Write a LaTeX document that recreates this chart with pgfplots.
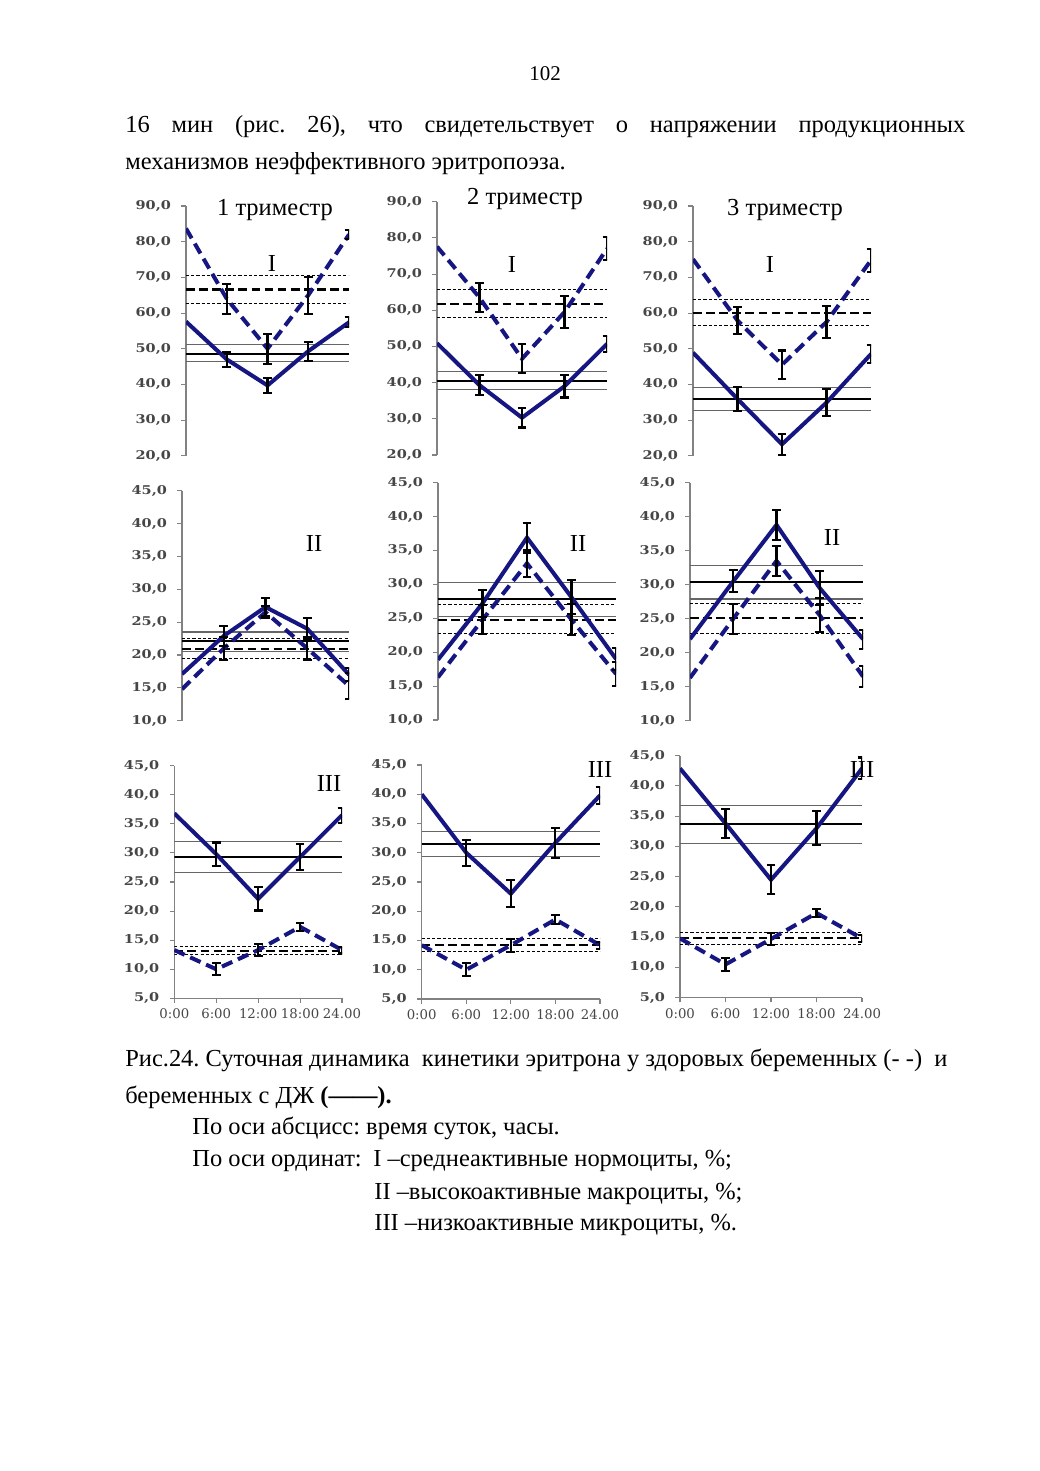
\documentclass[border=0pt]{standalone}
\usepackage{fontspec}
\setmainfont{Liberation Serif}
\newfontfamily\ticfont[FakeStretch=1.2]{DejaVu Serif}
\newfontfamily\xticfont{DejaVu Serif}
\usepackage{pgfplots}
\pgfplotsset{compat=1.18}
\definecolor{navy}{RGB}{22,22,130}
\definecolor{axgray}{RGB}{130,130,130}
\definecolor{tickgray}{RGB}{70,70,70}
\def\u{0.5723pt}
\pgfplotsset{
  panel/.style={scale only axis, xmin=0, xmax=24, anchor=south west,
    axis y line*=left,
    axis line style={axgray, line width=0.6pt},
    tick style={axgray, line width=0.6pt},
    tick align=outside, major tick length=2.6pt,
    yticklabel style={font=\ticfont\bfseries\fontsize{6.9}{8}\selectfont, text=tickgray, xshift=-2.5pt},
    xticklabel style={font=\xticfont\fontsize{7.6}{9}\selectfont, text=tickgray},
    /pgf/number format/fixed, /pgf/number format/fixed zerofill,
    /pgf/number format/precision=1, /pgf/number format/use comma,
    /pgf/number format/assume math mode=true},
  toprow/.style={panel, axis x line=none},
  botrow/.style={panel, axis x line*=bottom, xtick={0,6,12,18,24},
    xticklabels={0:00,6:00,12:00,18:00,24.00}},
  sline/.style={navy, line width=2.3pt, mark=none},
  dline/.style={navy, line width=2.3pt, mark=none, dash pattern=on 6.5pt off 3.5pt},
  smean/.style={black, line width=1.2pt, mark=none},
  dmean/.style={black, line width=1.2pt, mark=none, dash pattern=on 5pt off 2.5pt},
  sband/.style={black!60, line width=0.6pt, mark=none},
  dband/.style={black, line width=0.5pt, mark=none, dash pattern=on 1.8pt off 1.2pt},
  ebar/.style={draw=none, mark=none, error bars/.cd, y dir=both, y explicit,
    error mark=-,
    error bar style={draw=black, solid, line width=1.2pt},
    error mark options={rotate=90, draw=black, solid, line width=1.2pt, mark size=2.5pt}},
}
\begin{document}
\frenchspacing
\begin{tikzpicture}
\useasboundingbox (0,0) rectangle (1040*\u,-1471*\u);
\fill[white] (0,0) rectangle (1040*\u,-1471*\u);
% page text
\node[font=\fontsize{12}{14}\selectfont] at (545*\u,-74*\u) {102};
\node[anchor=base west, inner sep=0pt, font=\fontsize{14}{16}\selectfont] at (125*\u,-133*\u)
  {\makebox[480.7pt][s]{16 мин (рис. 26), что свидетельствует о напряжении продукционных}};
\node[anchor=base west, inner sep=0pt, font=\fontsize{14}{16}\selectfont] at (125*\u,-170*\u)
  {механизмов неэффективного эритропоэза.};
\begin{scope}[every node/.style={anchor=base west, inner sep=0pt, font=\fontsize{14}{16}\selectfont}]
\node at (125*\u,-1066*\u) {Рис.24. Суточная динамика\ \ кинетики эритрона у здоровых беременных (- -)\ \ и};
\node at (125*\u,-1103*\u) {беременных с ДЖ \textbf{(——).}};
\node at (192*\u,-1134*\u) {По оси абсцисс: время суток, часы.};
\node at (192*\u,-1166*\u) {По оси ординат:};
\node at (373*\u,-1166*\u) {I –среднеактивные нормоциты, \%;};
\node at (374*\u,-1199*\u) {II –высокоактивные макроциты, \%;};
\node at (374*\u,-1230*\u) {III –низкоактивные микроциты, \%.};
\end{scope}

% ---------- Row 1 ----------
\begin{axis}[toprow, at={(186*\u,-455.7*\u)}, width=163*\u, height=249.7*\u,
  ymin=20, ymax=90, ytick={20,30,...,90}]
\addplot[dband] coordinates {(0,70.5) (24,70.5)};
\addplot[dband] coordinates {(0,62.6) (24,62.6)};
\addplot[dmean] coordinates {(0,66.6) (24,66.6)};
\addplot[sband] coordinates {(0,51.2) (24,51.2)};
\addplot[sband] coordinates {(0,46.3) (24,46.3)};
\addplot[smean] coordinates {(0,48.5) (24,48.5)};
\addplot[dline] coordinates {(0,83.7) (6,64) (12,50) (18,65) (24,82)};
\addplot[sline] coordinates {(0,57.6) (6,47) (12,39.7) (18,49.3) (24,57.4)};
\addplot[ebar] coordinates {(6,64) +- (0,4.2) (12,50) +- (0,4.2) (18,65) +- (0,5.2) (24,82) +- (0,1.2)};
\addplot[ebar] coordinates {(6,47) +- (0,2.2) (12,39.7) +- (0,2.2) (18,49.3) +- (0,2.7) (24,57.4) +- (0,1.4)};
\end{axis}

\begin{axis}[toprow, at={(437*\u,-455*\u)}, width=170*\u, height=253.3*\u,
  ymin=20, ymax=90, ytick={20,30,...,90}]
\addplot[dband] coordinates {(0,65.7) (24,65.7)};
\addplot[dband] coordinates {(0,58.1) (24,58.1)};
\addplot[dmean] coordinates {(0,61.8) (24,61.8)};
\addplot[sband] coordinates {(0,43.2) (24,43.2)};
\addplot[sband] coordinates {(0,38) (24,38)};
\addplot[smean] coordinates {(0,40.4) (24,40.4)};
\addplot[dline] coordinates {(0,77.6) (6,63.5) (12,46.6) (18,59.5) (24,77)};
\addplot[sline] coordinates {(0,50.9) (6,39.3) (12,30.3) (18,39) (24,50.7)};
\addplot[ebar] coordinates {(6,63.5) +- (0,4) (12,46.6) +- (0,4) (18,59.5) +- (0,4.5) (24,77) +- (0,3.2)};
\addplot[ebar] coordinates {(6,39.3) +- (0,2.7) (12,30.3) +- (0,2.7) (18,39) +- (0,3.1) (24,50.7) +- (0,2.3)};
\end{axis}

\begin{axis}[toprow, at={(693*\u,-455.7*\u)}, width=178*\u, height=249.7*\u,
  ymin=20, ymax=90, ytick={20,30,...,90}]
\addplot[dband] coordinates {(0,63.8) (24,63.8)};
\addplot[dband] coordinates {(0,56.4) (24,56.4)};
\addplot[dmean] coordinates {(0,60) (24,60)};
\addplot[sband] coordinates {(0,39) (24,39)};
\addplot[sband] coordinates {(0,32.7) (24,32.7)};
\addplot[smean] coordinates {(0,35.8) (24,35.8)};
\addplot[dline] coordinates {(0,75.1) (6,57.9) (12,45.5) (18,57.5) (24,74.8)};
\addplot[sline] coordinates {(0,48.9) (6,35.9) (12,23.2) (18,34.9) (24,48.5)};
\addplot[ebar] coordinates {(6,57.9) +- (0,3.8) (12,45.5) +- (0,4) (18,57.5) +- (0,4.5) (24,74.8) +- (0,3.2)};
\addplot[ebar] coordinates {(6,35.9) +- (0,3.3) (12,23.2) +- (0,3) (18,34.9) +- (0,3.8) (24,48.5) +- (0,2.5)};
\end{axis}

% ---------- Row 2 ----------
\begin{axis}[toprow, at={(182*\u,-720.7*\u)}, width=167*\u, height=230*\u,
  ymin=10, ymax=45, ytick={10,15,...,45}]
\addplot[dband] coordinates {(0,22.5) (24,22.5)};
\addplot[dband] coordinates {(0,19.5) (24,19.5)};
\addplot[dmean] coordinates {(0,20.9) (24,20.9)};
\addplot[sband] coordinates {(0,23.5) (24,23.5)};
\addplot[sband] coordinates {(0,20.6) (24,20.6)};
\addplot[smean] coordinates {(0,22.1) (24,22.1)};
\addplot[dline] coordinates {(0,14.8) (6,21) (12,26.5) (18,21) (24,15.3)};
\addplot[sline] coordinates {(0,17.1) (6,22.9) (12,27.3) (18,24) (24,17)};
\addplot[ebar] coordinates {(6,21) +- (0,1.7) (12,26.5) +- (0,0.9) (18,21) +- (0,1.7) (24,15.3) +- (0,2)};
\addplot[ebar] coordinates {(6,22.9) +- (0,1.5) (12,27.3) +- (0,1.4) (18,24) +- (0,1.6) (24,17) +- (0,1)};
\end{axis}

\begin{axis}[toprow, at={(438*\u,-720*\u)}, width=178*\u, height=237.3*\u,
  ymin=10, ymax=45, ytick={10,15,...,45}]
\addplot[dband] coordinates {(0,27) (24,27)};
\addplot[dband] coordinates {(0,22.7) (24,22.7)};
\addplot[dmean] coordinates {(0,24.8) (24,24.8)};
\addplot[sband] coordinates {(0,30.3) (24,30.3)};
\addplot[sband] coordinates {(0,25.3) (24,25.3)};
\addplot[smean] coordinates {(0,27.8) (24,27.8)};
\addplot[dline] coordinates {(0,16.3) (6,24.8) (12,33.1) (18,24.8) (24,16.8)};
\addplot[sline] coordinates {(0,18.9) (6,27.2) (12,36.9) (18,28.1) (24,19)};
\addplot[ebar] coordinates {(6,24.8) +- (0,2.1) (12,33.1) +- (0,2) (18,24.8) +- (0,2.3) (24,16.8) +- (0,1.8)};
\addplot[ebar] coordinates {(6,27.2) +- (0,2) (12,36.9) +- (0,2.2) (18,28.1) +- (0,2.5) (24,19) +- (0,1.6)};
\end{axis}

\begin{axis}[toprow, at={(690*\u,-720.7*\u)}, width=173*\u, height=238*\u,
  ymin=10, ymax=45, ytick={10,15,...,45}]
\addplot[dband] coordinates {(0,27.2) (24,27.2)};
\addplot[dband] coordinates {(0,22.9) (24,22.9)};
\addplot[dmean] coordinates {(0,25.1) (24,25.1)};
\addplot[sband] coordinates {(0,32.8) (24,32.8)};
\addplot[sband] coordinates {(0,27.9) (24,27.9)};
\addplot[smean] coordinates {(0,30.4) (24,30.4)};
\addplot[dline] coordinates {(0,16.3) (6,25) (12,33.5) (18,25.5) (24,16.5)};
\addplot[sline] coordinates {(0,22) (6,30.5) (12,38.8) (18,29.5) (24,22)};
\addplot[ebar] coordinates {(6,25) +- (0,2.2) (12,33.5) +- (0,2.2) (18,25.5) +- (0,2.5) (24,16.5) +- (0,1.5)};
\addplot[ebar] coordinates {(6,30.5) +- (0,1.6) (12,38.8) +- (0,2.2) (18,29.5) +- (0,2.5) (24,22) +- (0,1.4)};
\end{axis}

% ---------- Row 3 ----------
\begin{axis}[botrow, at={(174.3*\u,-998.3*\u)}, width=167.7*\u, height=232.6*\u,
  ymin=5, ymax=45, ytick={5,10,...,45}]
\addplot[dband] coordinates {(0,14) (24,14)};
\addplot[dband] coordinates {(0,12.5) (24,12.5)};
\addplot[dmean] coordinates {(0,13.2) (24,13.2)};
\addplot[sband] coordinates {(0,31.9) (24,31.9)};
\addplot[sband] coordinates {(0,26.7) (24,26.7)};
\addplot[smean] coordinates {(0,29.3) (24,29.3)};
\addplot[dline] coordinates {(0,13.3) (6,10) (12,13.3) (18,17.3) (24,13.3)};
\addplot[sline] coordinates {(0,36.8) (6,29.8) (12,22.1) (18,29.3) (24,36.5)};
\addplot[ebar] coordinates {(6,10) +- (0,1) (12,13.3) +- (0,1) (18,17.3) +- (0,0.7) (24,13.3) +- (0,0.6)};
\addplot[ebar] coordinates {(6,29.8) +- (0,2) (12,22.1) +- (0,2) (18,29.3) +- (0,2.2) (24,36.5) +- (0,1.3)};
\end{axis}

\begin{axis}[botrow, at={(421.7*\u,-999*\u)}, width=178.3*\u, height=234*\u,
  ymin=5, ymax=45, ytick={5,10,...,45}]
\addplot[dband] coordinates {(0,15.3) (24,15.3)};
\addplot[dband] coordinates {(0,13.2) (24,13.2)};
\addplot[dmean] coordinates {(0,14.3) (24,14.3)};
\addplot[sband] coordinates {(0,33.6) (24,33.6)};
\addplot[sband] coordinates {(0,29.3) (24,29.3)};
\addplot[smean] coordinates {(0,31.5) (24,31.5)};
\addplot[dline] coordinates {(0,14.2) (6,10) (12,14.2) (18,18.6) (24,14.2)};
\addplot[sline] coordinates {(0,40) (6,30) (12,23) (18,31.7) (24,39.8)};
\addplot[ebar] coordinates {(6,10) +- (0,1.1) (12,14.2) +- (0,1.1) (18,18.6) +- (0,0.75) (24,14.2) +- (0,0.6)};
\addplot[ebar] coordinates {(6,30) +- (0,2.2) (12,23) +- (0,2.3) (18,31.7) +- (0,2.6) (24,39.8) +- (0,1.5)};
\end{axis}

\begin{axis}[botrow, at={(680*\u,-997.7*\u)}, width=182*\u, height=242*\u,
  ymin=5, ymax=45, ytick={5,10,...,45}]
\addplot[dband] coordinates {(0,15.8) (24,15.8)};
\addplot[dband] coordinates {(0,13.8) (24,13.8)};
\addplot[dmean] coordinates {(0,14.8) (24,14.8)};
\addplot[sband] coordinates {(0,36.7) (24,36.7)};
\addplot[sband] coordinates {(0,30.5) (24,30.5)};
\addplot[smean] coordinates {(0,33.7) (24,33.7)};
\addplot[dline] coordinates {(0,14.8) (6,10.5) (12,14.7) (18,19) (24,14.8)};
\addplot[sline] coordinates {(0,42.9) (6,33.8) (12,24.5) (18,33) (24,42.9)};
\addplot[ebar] coordinates {(6,10.5) +- (0,1.1) (12,14.7) +- (0,1) (18,19) +- (0,0.7) (24,14.8) +- (0,0.6)};
\addplot[ebar] coordinates {(6,33.8) +- (0,2.4) (12,24.5) +- (0,2.4) (18,33) +- (0,2.8) (24,42.9) +- (0,1.8)};
\end{axis}

% ---------- panel labels ----------
\begin{scope}[every node/.style={font=\fontsize{14}{16}\selectfont, inner sep=0pt}]
\node at (275*\u,-210*\u) {1 триместр};
\node at (525*\u,-199*\u) {2 триместр};
\node at (785*\u,-210*\u) {3 триместр};
\node at (272*\u,-263*\u) {I};
\node at (512*\u,-264*\u) {I};
\node at (770*\u,-264*\u) {I};
\node at (314*\u,-543*\u) {II};
\node at (578*\u,-543*\u) {II};
\node at (832*\u,-537*\u) {II};
\node at (329*\u,-783*\u) {III};
\node at (600*\u,-769*\u) {III};
\node at (862*\u,-769*\u) {III};
\end{scope}
\end{tikzpicture}
\end{document}
